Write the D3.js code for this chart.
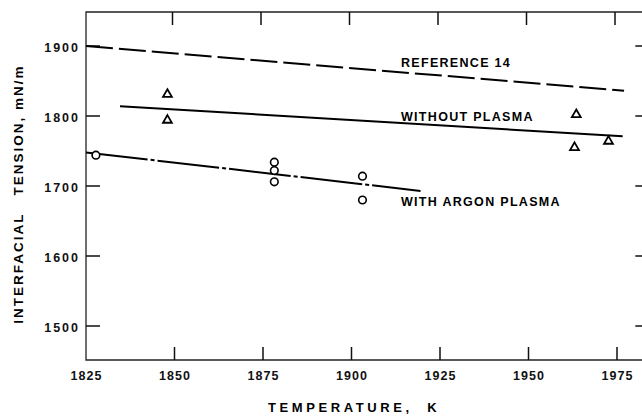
<!DOCTYPE html>
<html>
<head>
<meta charset="utf-8">
<script src="https://cdn.jsdelivr.net/npm/d3@7"></script>
<style>
  body { margin: 0; background: #fff; }
  svg { display: block; font-family: "Liberation Sans", Arial, sans-serif; font-weight: bold; }
  .frame { stroke: #222; stroke-width: 1.3; fill: none; }
  .axis path, .axis line { display: none; }
  .axis text { font-size: 12.5px; fill: #111; font-family: "Liberation Sans", Arial, sans-serif; font-weight: bold; }
  .fit { fill: none; stroke: #000; stroke-width: 2; }
  .label { font-size: 12.5px; letter-spacing: 1.3px; fill: #000; }
</style>
</head>
<body>
<svg id="chart" width="642" height="416"></svg>
<script>
//-----------------------------------------------------//

// Tick values
const xTicks = [1825, 1850, 1875, 1900, 1925, 1950, 1975];
const yTicks = [1500, 1600, 1700, 1800, 1900];

// Fitted lines (end points, temperature K / tension mN/m)
const refTemp = [1825, 1977];
const refTension = [1900, 1836];
const noPlasmaTemp = [1834.6, 1976.6];
const noPlasmaTension = [1814, 1771];
const argonTemp = [1825, 1919.5];
const argonTension = [1748, 1693];

// Measured points
const triTemp = [1848, 1848, 1963.5, 1963, 1972.6];
const triTension = [1831, 1794, 1802, 1755, 1764];
const circTemp = [1827.8, 1878.2, 1878.2, 1878.2, 1903.1, 1903.1];
const circTension = [1744, 1734, 1722, 1706, 1714, 1680];

//-----------------------------------------------------//

const svg = d3.select("#chart");

// Scales
const x = d3.scaleLinear().domain([1825, 1975]).range([86, 617]);
const y = d3.scaleLinear().domain([1500, 1900]).range([326, 46]);

const plotLeft = x(1825), plotRight = x(1983), plotTop = 12, plotBottom = 360;

// Frame (right side falls just off the page like the scan)
svg.append("path")
  .attr("class", "frame")
  .attr("d", `M${plotRight},${plotTop}H${plotLeft}V${plotBottom}H${plotRight}`);

// Tick labels from d3 axes (their own tick lines hidden)
svg.append("g")
  .attr("class", "axis")
  .attr("transform", `translate(${plotLeft},0)`)
  .call(d3.axisLeft(y).tickValues(yTicks).tickSize(0).tickPadding(6).tickFormat(d3.format("d")))
  .selectAll("text").style("letter-spacing", "2px").attr("dy", "0.4em");

svg.append("g")
  .attr("class", "axis")
  .attr("transform", `translate(0,${plotBottom})`)
  .call(d3.axisBottom(x).tickValues(xTicks).tickSize(0).tickPadding(11).tickFormat(d3.format("d")))
  .selectAll("text").style("letter-spacing", "1px");

// Inward tick marks on all four sides, drawn as one path
const tickPath = d3.path();
yTicks.forEach(v => {
  tickPath.moveTo(plotLeft, y(v)); tickPath.lineTo(plotLeft + 14, y(v));
  tickPath.moveTo(plotRight, y(v)); tickPath.lineTo(plotRight - 10, y(v));
});
xTicks.slice(1).forEach(v => {
  tickPath.moveTo(x(v), plotBottom); tickPath.lineTo(x(v), plotBottom - 13);
  tickPath.moveTo(x(v) - 2, plotTop); tickPath.lineTo(x(v) - 2, plotTop + 13);
});

svg.append("path")
  .attr("d", tickPath.toString())
  .attr("fill", "none")
  .attr("stroke", "#111")
  .attr("stroke-width", 1.5);

// Lines
const line = d3.line().x(d => x(d[0])).y(d => y(d[1]));

svg.append("path")
  .attr("class", "fit")
  .attr("stroke-dasharray", "27,6")
  .attr("d", line(d3.zip(refTemp, refTension)));

svg.append("path")
  .attr("class", "fit")
  .attr("d", line(d3.zip(noPlasmaTemp, noPlasmaTension)));

svg.append("path")
  .attr("class", "fit")
  .attr("stroke-dasharray", "62,3,4,3")
  .attr("d", line(d3.zip(argonTemp, argonTension)));

// Points
svg.selectAll(".tri")
  .data(d3.zip(triTemp, triTension))
  .enter().append("path")
  .attr("class", "tri")
  .attr("transform", d => `translate(${x(d[0])},${y(d[1])})`)
  .attr("d", d3.symbol().type(d3.symbolTriangle).size(34))
  .attr("fill", "none")
  .attr("stroke", "#000")
  .attr("stroke-width", 1.8);

svg.selectAll(".circ")
  .data(d3.zip(circTemp, circTension))
  .enter().append("circle")
  .attr("class", "circ")
  .attr("cx", d => x(d[0]))
  .attr("cy", d => y(d[1]))
  .attr("r", 3.8)
  .attr("fill", "#fff")
  .attr("stroke", "#000")
  .attr("stroke-width", 1.6);

// Line labels
svg.append("text").attr("class", "label").attr("x", 401).attr("y", 67).text("REFERENCE 14");
svg.append("text").attr("class", "label").attr("x", 401).attr("y", 121).text("WITHOUT PLASMA");
svg.append("text").attr("class", "label").attr("x", 401).attr("y", 206).text("WITH ARGON PLASMA");

// Axis titles
svg.append("text")
  .attr("x", 268).attr("y", 412)
  .style("font-size", "13px")
  .style("letter-spacing", "3.6px")
  .style("white-space", "pre")
  .text("TEMPERATURE,  K");

svg.append("text")
  .attr("transform", "translate(23,194) rotate(-90)")
  .attr("text-anchor", "middle")
  .style("font-size", "13.5px")
  .style("letter-spacing", "2px")
  .style("white-space", "pre")
  .text("INTERFACIAL   TENSION, mN/m");
</script>
</body>
</html>
